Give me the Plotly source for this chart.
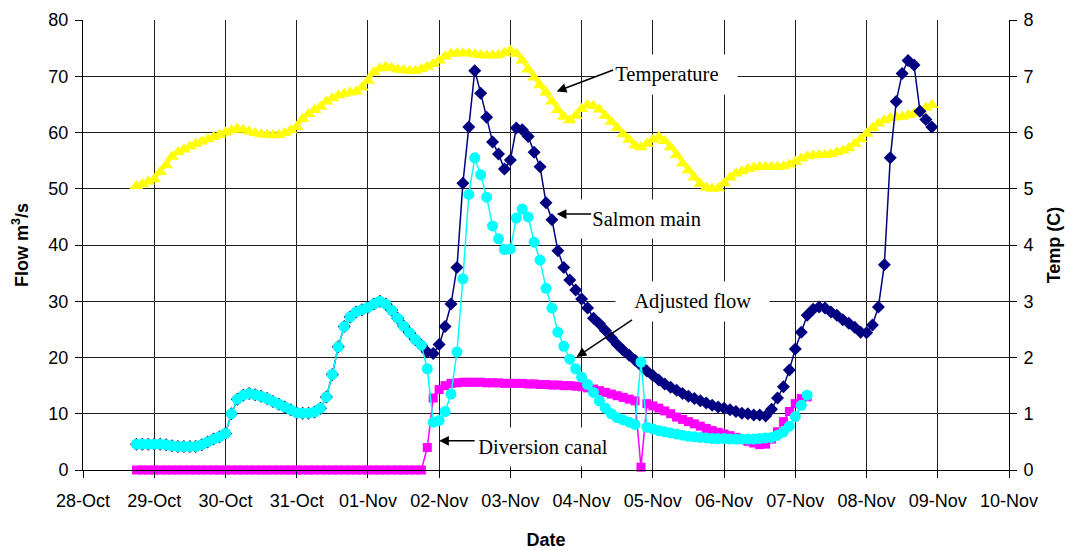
import pandas as pd
import plotly.graph_objects as go

# ---- data (2-hourly readings, first reading 28-Oct 18:00) ----
start_time = "2006-10-28 18:00"
step = "2h"

salmon_main = [
    4.6, 4.6, 4.6, 4.6, 4.6, 4.5, 4.3, 4.2, 4.2, 4.2, 4.2,
    4.5, 5.0, 5.5, 5.9, 6.5, 10.0, 12.6, 13.3, 13.6, 13.4, 13.1,
    12.7, 12.2, 11.7, 11.2, 10.7, 10.2, 10.1, 10.1, 10.3, 11.0, 13.0,
    17.0, 21.9, 25.5, 27.2, 28.1, 28.5, 28.9, 29.5, 30.0, 29.5, 28.4,
    27.0, 25.6, 24.4, 23.2, 22.2, 21.0, 20.7, 22.3, 25.5, 29.5, 36.0,
    51.0, 61.0, 71.0, 67.0, 62.7, 58.3, 56.2, 53.5, 55.1, 60.8, 60.5,
    59.3, 56.5, 53.9, 47.5, 44.5, 39.0, 36.0, 33.8, 32.0, 30.4, 28.8,
    27.0, 26.0, 24.8, 23.5, 22.3, 21.3, 20.4, 19.5, 18.6, 17.6, 16.8,
    16.0, 15.3, 14.7, 14.2, 13.6, 13.1, 12.7, 12.3, 11.9, 11.5, 11.2,
    11.0, 10.7, 10.4, 10.1, 10.0, 9.8, 9.8, 9.6, 10.8, 12.8, 14.8,
    17.8, 21.5, 24.5, 27.5, 28.6, 29.0, 28.8, 28.1, 27.5, 26.7, 26.1,
    25.4, 24.5, 24.4, 25.8, 29.0, 36.5, 55.5, 65.5, 70.5, 72.8, 72.0,
    63.8, 62.3, 61.0,
]

adjusted_flow = [
    4.6, 4.6, 4.6, 4.6, 4.6, 4.5, 4.3, 4.2, 4.2, 4.2, 4.2,
    4.5, 5.0, 5.5, 5.9, 6.5, 10.0, 12.6, 13.3, 13.6, 13.4, 13.1,
    12.7, 12.2, 11.7, 11.2, 10.7, 10.2, 10.1, 10.1, 10.3, 11.0, 13.0,
    17.0, 21.9, 25.5, 27.2, 28.1, 28.5, 28.9, 29.5, 30.0, 29.5, 28.4,
    27.0, 25.6, 24.4, 23.2, 22.2,
    18.0, 8.5, 8.8, 10.4, 13.5, 21.0, 34.0, 49.0, 55.5, 52.5, 48.5,
    43.4, 41.1, 39.2, 39.3, 44.8, 46.4, 45.0, 40.5, 37.3, 32.3, 28.8,
    24.5, 22.0, 19.7, 18.0, 16.5, 15.2, 13.8, 12.3, 11.0, 10.0, 9.3,
    8.9, 8.5, 8.1, 19.2, 7.6, 7.3, 7.0, 6.8, 6.6, 6.4, 6.2,
    6.0, 5.9, 5.8, 5.7, 5.6, 5.6, 5.6, 5.5, 5.5, 5.5, 5.5,
    5.5, 5.6, 5.7, 5.8, 6.2, 6.8, 7.8, 9.5, 11.5, 13.3,
]

diversion_canal = [0.0] * 49 + [
    4.0, 12.8, 14.3, 15.0, 15.4, 15.5, 15.6, 15.6, 15.6, 15.6, 15.5,
    15.5, 15.5, 15.4, 15.4, 15.4, 15.4, 15.3, 15.3, 15.2, 15.2, 15.1,
    15.1, 15.0, 15.0, 14.9, 14.8, 14.6, 14.4, 14.1, 13.8, 13.5, 13.2,
    12.9, 12.6, 12.3, 0.5, 11.8, 11.4, 11.0, 10.5, 10.0, 9.4, 9.0,
    8.6, 8.2, 7.8, 7.4, 7.0, 6.7, 6.4, 6.1, 5.8, 5.4, 5.1,
    4.8, 4.5, 4.6, 5.5, 6.8, 8.6, 10.4, 11.8, 12.7, 13.0,
]

temperature = [
    5.05, 5.08, 5.13, 5.17, 5.30, 5.42, 5.57, 5.65, 5.70, 5.75, 5.80,
    5.84, 5.88, 5.92, 5.96, 6.00, 6.04, 6.07, 6.05, 6.02, 5.99, 5.97,
    5.96, 5.95, 5.96, 5.99, 6.04, 6.10, 6.24, 6.33, 6.40, 6.46, 6.55,
    6.61, 6.66, 6.69, 6.71, 6.73, 6.80, 6.92, 7.07, 7.14, 7.17, 7.15,
    7.12, 7.11, 7.10, 7.10, 7.13, 7.17, 7.22, 7.28, 7.35, 7.40, 7.41,
    7.41, 7.41, 7.39, 7.38, 7.37, 7.37, 7.38, 7.42, 7.46, 7.40, 7.28,
    7.12, 6.98, 6.84, 6.71, 6.55, 6.40, 6.28, 6.22, 6.30, 6.42, 6.49,
    6.47, 6.41, 6.30, 6.19, 6.08, 5.97, 5.87, 5.77, 5.74, 5.80, 5.87,
    5.92, 5.85, 5.74, 5.60, 5.45, 5.33, 5.20, 5.09, 5.02, 5.00, 5.01,
    5.10, 5.20, 5.27, 5.31, 5.35, 5.38, 5.39, 5.39, 5.39, 5.39, 5.40,
    5.43, 5.48, 5.54, 5.58, 5.59, 5.60, 5.60, 5.62, 5.65, 5.68, 5.72,
    5.80, 5.88, 5.98, 6.08, 6.16, 6.22, 6.26, 6.27, 6.28, 6.31, 6.34,
    6.39, 6.44, 6.49,
]

x_range = ["2006-10-28", "2006-11-10"]
flow_range = [0, 80]
temp_range = [0, 8]


def times(values):
    return pd.date_range(start_time, periods=len(values), freq=step)


fig = go.Figure()

fig.add_trace(go.Scatter(
    x=times(temperature), y=temperature, name="Temperature", yaxis="y",
    mode="lines+markers",
    line=dict(color="#FFFF00", width=3),
    marker=dict(symbol="triangle-up", size=12, color="#FFFF00", line=dict(width=0)),
    cliponaxis=False,
))
fig.add_trace(go.Scatter(
    x=times(salmon_main), y=salmon_main, name="Salmon main", yaxis="y2",
    mode="lines+markers",
    line=dict(color="#000080", width=1.5),
    marker=dict(symbol="diamond", size=10, color="#000080", line=dict(width=0)),
    cliponaxis=False,
))
fig.add_trace(go.Scatter(
    x=times(diversion_canal), y=diversion_canal, name="Diversion canal", yaxis="y2",
    mode="lines+markers",
    line=dict(color="#FF00FF", width=1.5),
    marker=dict(symbol="square", size=9, color="#FF00FF", line=dict(width=0)),
    cliponaxis=False,
))
fig.add_trace(go.Scatter(
    x=times(adjusted_flow), y=adjusted_flow, name="Adjusted flow", yaxis="y2",
    mode="lines+markers",
    line=dict(color="#00FFFF", width=1.5),
    marker=dict(symbol="circle", size=11, color="#00FFFF", line=dict(width=0)),
    cliponaxis=False,
))

sans = "Liberation Sans, Arial, sans-serif"
serif = "Liberation Serif, Times New Roman, serif"
grid = "#1e1e1e"

label_font = dict(family=serif, size=20.5, color="black")
nb = "\u00a0\u00a0"
labels = [
    ("Temperature", "2006-11-05 04:36", 70.35),
    ("Salmon main", "2006-11-04 21:54", 44.6),
    ("Adjusted flow", "2006-11-05 13:30", 29.9),
    ("Diversion canal", "2006-11-03 11:00", 4.14),
]
arrows = [
    ("2006-11-03 15:36", 67.3, 58, -22),
    ("2006-11-03 15:36", 45.5, 36, 0),
    ("2006-11-03 22:18", 20.1, 57, -38),
    ("2006-11-02 00:00", 5.2, 37, 0),
]
annotations = []
for text, xv, yv in labels:
    annotations.append(dict(
        text=nb + text + nb, x=xv, y=yv, xref="x", yref="y2", showarrow=False,
        font=label_font, bgcolor="white", borderpad=8,
    ))
for xv, yv, ax, ay in arrows:
    annotations.append(dict(
        text="", x=xv, y=yv, xref="x", yref="y2", showarrow=True,
        ax=ax, ay=ay, arrowhead=2, arrowsize=1.3, arrowwidth=1.5,
        arrowcolor="black", standoff=0, startstandoff=0,
    ))

fig.update_layout(
    width=1073, height=550, autosize=False,
    margin=dict(l=83, r=64, t=20, b=80, autoexpand=False),
    paper_bgcolor="white", plot_bgcolor="white",
    showlegend=False,
    font=dict(family=sans, color="black"),
    xaxis=dict(
        type="date", range=x_range, tick0=x_range[0], dtick=86400000,
        tickformat="%d-%b", showgrid=True, gridcolor=grid, gridwidth=1,
        showline=True, linecolor="black", linewidth=1, automargin=False,
        ticks="outside", ticklen=7, tickcolor="black", ticklabelstandoff=7,
        tickfont=dict(family=sans, size=18, color="black"),
        title=dict(text="<b>Date</b>", font=dict(family=sans, size=18, color="black"), standoff=24),
        zeroline=False,
    ),
    yaxis=dict(
        side="right", range=temp_range, dtick=1, tick0=0, automargin=False,
        showgrid=True, gridcolor=grid, gridwidth=1, zeroline=False,
        showline=True, linecolor="black", linewidth=1,
        ticks="outside", ticklen=7, tickcolor="black", ticklabelstandoff=3,
        tickfont=dict(family=sans, size=18, color="black"),
        title=dict(text="<b>Temp (C)</b>", font=dict(family=sans, size=18, color="black"), standoff=14),
    ),
    yaxis2=dict(
        side="left", overlaying="y", range=flow_range, dtick=10, tick0=0,
        showgrid=False, zeroline=False, automargin=False,
        showline=True, linecolor="black", linewidth=1,
        ticks="outside", ticklen=7, tickcolor="black", ticklabelstandoff=3,
        tickfont=dict(family=sans, size=18, color="black"),
        title=dict(text="<b>Flow m<sup>3</sup>/s</b>", font=dict(family=sans, size=18, color="black"), standoff=15),
    ),
    annotations=annotations,
)

fig.write_html("out.html")
